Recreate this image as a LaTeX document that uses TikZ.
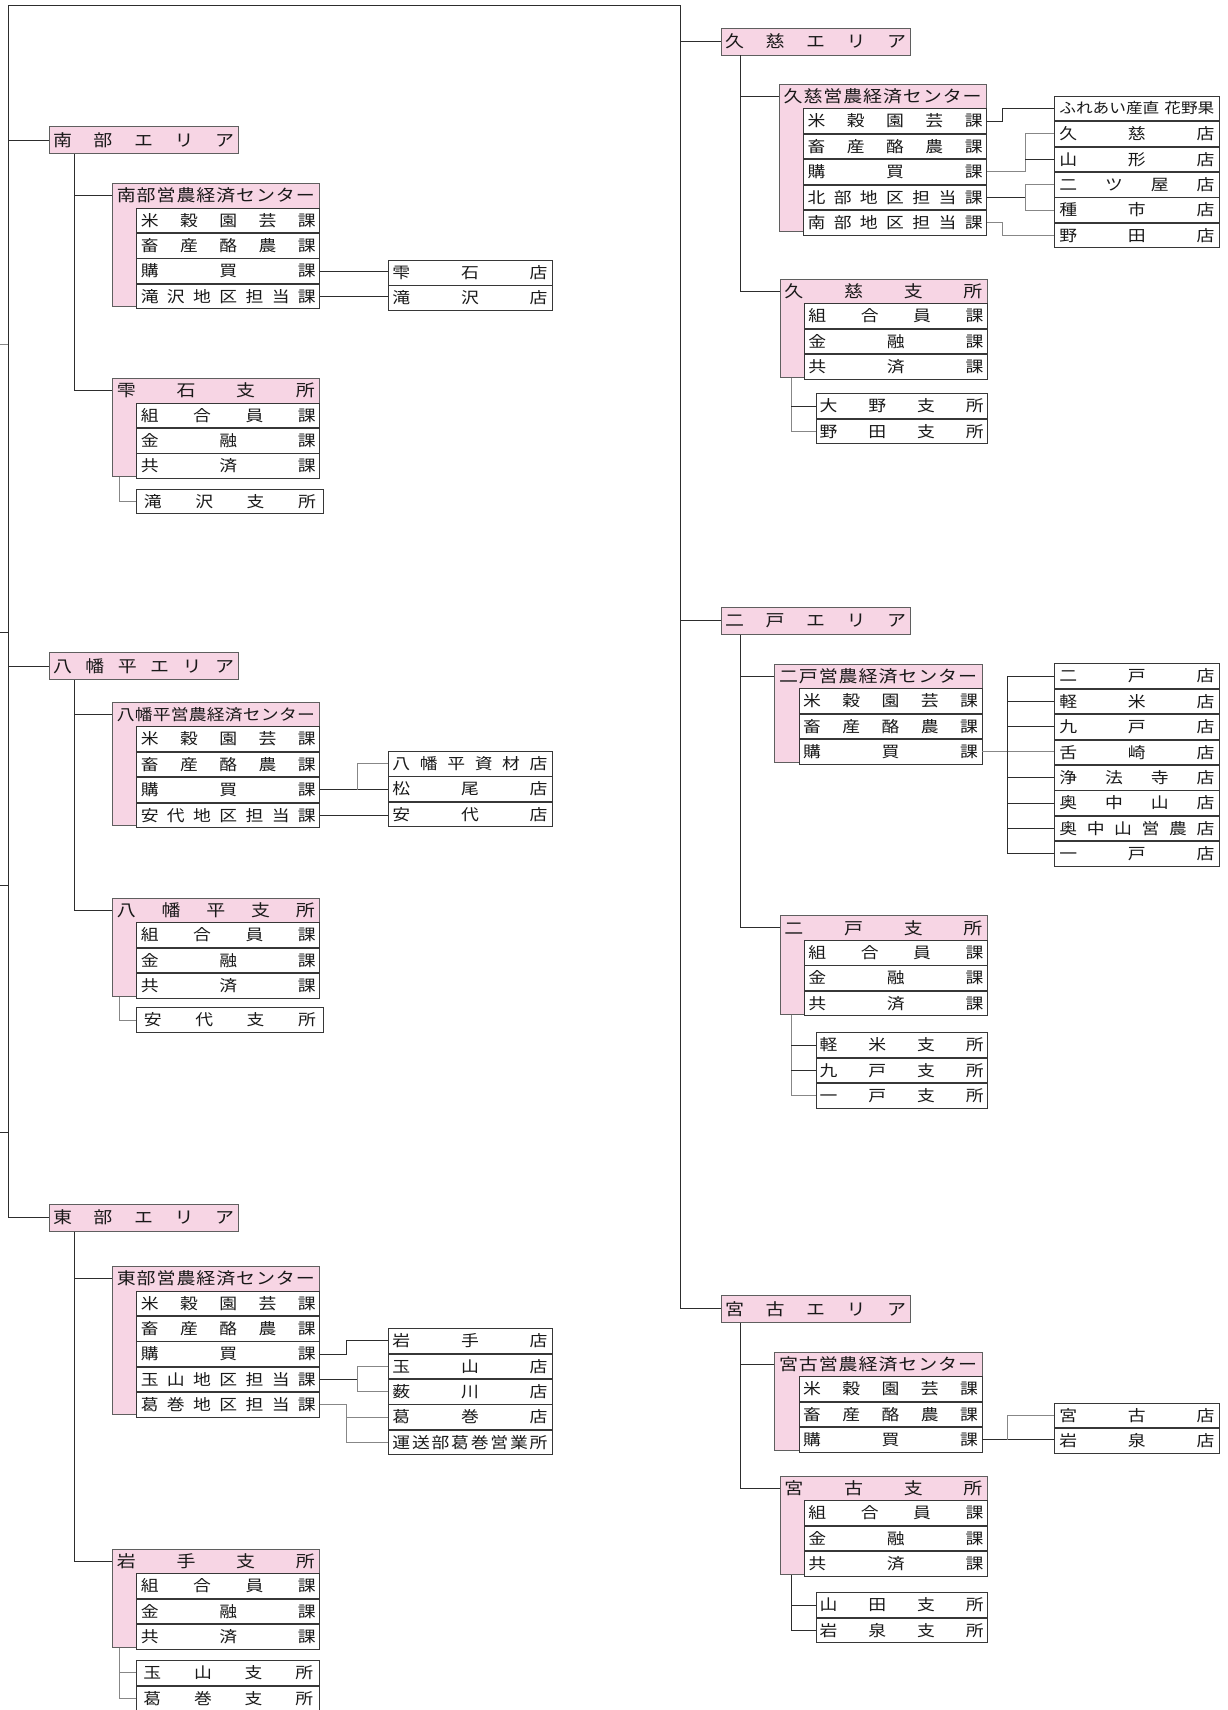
\documentclass[tikz,border=0pt]{standalone}
\usepackage{fontspec}
\usetikzlibrary{positioning}
\newfontfamily\jp[FakeStretch=1.15]{Noto Sans CJK JP}
\newcommand{\areafont}{\jp\fontsize{16.5pt}{16.5pt}\selectfont}
\newcommand{\headfont}{\jp\fontsize{16.5pt}{16.5pt}\selectfont}
\newcommand{\boxfont}{\jp\fontsize{15.5pt}{15.5pt}\selectfont}
\newcommand{\smallfont}{\jp\fontsize{14.5pt}{14.5pt}\selectfont}
\newlength{\jw}
\newcommand{\jt}[1]{\hbox to \jw{\spaceskip=0pt plus 1fil\relax #1}}
\definecolor{jpink}{RGB}{247,213,228}
\definecolor{boxline}{RGB}{95,95,95}
\definecolor{rowline}{RGB}{55,55,55}
\definecolor{linkdark}{RGB}{45,45,45}
\definecolor{linkgray}{RGB}{135,135,135}
\definecolor{jtext}{RGB}{25,25,25}

\begin{document}
\begin{tikzpicture}[x=1pt, y=-1pt,
    spread/.style={execute at begin node={\setlength{\jw}{#1}}},
    area/.style={draw=boxline, fill=jpink, line width=0.8pt, anchor=north west, inner sep=0pt,
      minimum width=189pt, minimum height=27pt, spread=181pt, font=\areafont, text=jtext},
    pinkbox/.style={draw=boxline, fill=jpink, line width=0.8pt, anchor=north west, inner sep=0pt,
      minimum width=207.5pt},
    head/.style={anchor=north west, inner sep=0pt, minimum width=207.5pt, minimum height=24.6pt,
      spread=198pt, font=\headfont, text=jtext},
    row/.style={draw=rowline, fill=white, line width=0.8pt, inner sep=0pt, minimum width=183pt,
      minimum height=24.6pt, spread=175pt, font=\boxfont, text=jtext},
    shop/.style={row, minimum width=164.1pt, spread=155pt},
    lsub/.style={row, minimum width=186.3pt, spread=172pt},
    rsub/.style={row, minimum width=171.5pt, spread=164pt},
    link/.style={draw=linkdark, line width=0.9pt},
    sublink/.style={draw=linkgray, line width=0.9pt}]

\useasboundingbox (0,0) rectangle (1227,1710);

\coordinate (ltop) at (8,5);
\coordinate (rtop) at (680.4,5);
\coordinate (lv) at (74.3,0);
\coordinate (ls) at (119.4,0);
\coordinate (rv) at (740.8,0);
\coordinate (rs) at (791.1,0);
\coordinate (hmj) at (357.5,0);
\coordinate (tbj1) at (346,0);
\coordinate (tbj2) at (357.5,0);
\coordinate (kjj1) at (1002.5,0);
\coordinate (kjj2) at (1025,0);
\coordinate (nnj) at (1007.1,0);
\coordinate (mkj) at (1007.1,0);
\coordinate (tk1) at (0,344);
\coordinate (tk2) at (0,632);
\coordinate (tk3) at (0,885);
\coordinate (tk4) at (0,1132);

% ---------- 南部エリア
\node[area] (nb-area) at (48.6,126.4) {\jt{南 部 エ リ ア}};
\node[pinkbox, minimum height=123pt] (nb-ctr-bg) at (111.9,182.9) {};
\node[head] (nb-ctr) at (111.9,182.9) {\jt{南 部 営 農 経 済 セ ン タ ー}};
\node[row, anchor=north west] (nb-c1) at (136.4,207.5) {\jt{米 穀 園 芸 課}};
\node[row, below=0pt of nb-c1] (nb-c2) {\jt{畜 産 酪 農 課}};
\node[row, below=0pt of nb-c2] (nb-c3) {\jt{購 買 課}};
\node[row, below=0pt of nb-c3] (nb-c4) {\jt{滝 沢 地 区 担 当 課}};
\node[shop, anchor=north west] (nb-s1) at (387.5,260) {\jt{雫 石 店}};
\node[shop, below=0pt of nb-s1] (nb-s2) {\jt{滝 沢 店}};
\node[pinkbox, minimum height=98.4pt] (nb-br-bg) at (111.9,377.9) {};
\node[head] (nb-br) at (111.9,377.9) {\jt{雫 石 支 所}};
\node[row, anchor=north west] (nb-b1) at (136.4,402.5) {\jt{組 合 員 課}};
\node[row, below=0pt of nb-b1] (nb-b2) {\jt{金 融 課}};
\node[row, below=0pt of nb-b2] (nb-b3) {\jt{共 済 課}};
\node[lsub, anchor=north west] (nb-sub1) at (136.4,488.6) {\jt{滝 沢 支 所}};

\draw[link] (nb-area.south -| lv) |- (nb-ctr.west);
\draw[link] (nb-area.south -| lv) |- (nb-br.west);
\draw[link] (nb-c3.east) -- (nb-c3.east -| nb-s1.west);
\draw[link] (nb-c4.east) -- (nb-c4.east -| nb-s2.west);
\draw[sublink] (nb-br-bg.south -| ls) |- (nb-sub1.west);

% ---------- 八幡平エリア
\node[area] (hm-area) at (48.6,652.3) {\jt{八 幡 平 エ リ ア}};
\node[pinkbox, minimum height=123pt] (hm-ctr-bg) at (111.9,701.7) {};
\node[head, font=\boxfont] (hm-ctr) at (111.9,701.7) {\jt{八 幡 平 営 農 経 済 セ ン タ ー}};
\node[row, anchor=north west] (hm-c1) at (136.4,726.3) {\jt{米 穀 園 芸 課}};
\node[row, below=0pt of hm-c1] (hm-c2) {\jt{畜 産 酪 農 課}};
\node[row, below=0pt of hm-c2] (hm-c3) {\jt{購 買 課}};
\node[row, below=0pt of hm-c3] (hm-c4) {\jt{安 代 地 区 担 当 課}};
\node[shop, anchor=north west] (hm-s1) at (387.5,751) {\jt{八 幡 平 資 材 店}};
\node[shop, below=0pt of hm-s1] (hm-s2) {\jt{松 尾 店}};
\node[shop, below=0pt of hm-s2] (hm-s3) {\jt{安 代 店}};
\node[pinkbox, minimum height=98.4pt] (hm-br-bg) at (111.9,897.7) {};
\node[head] (hm-br) at (111.9,897.7) {\jt{八 幡 平 支 所}};
\node[row, anchor=north west] (hm-b1) at (136.4,922.3) {\jt{組 合 員 課}};
\node[row, below=0pt of hm-b1] (hm-b2) {\jt{金 融 課}};
\node[row, below=0pt of hm-b2] (hm-b3) {\jt{共 済 課}};
\node[lsub, anchor=north west] (hm-sub1) at (136.4,1007.3) {\jt{安 代 支 所}};

\draw[link] (hm-area.south -| lv) |- (hm-ctr.west);
\draw[link] (hm-area.south -| lv) |- (hm-br.west);
\draw[link] (hm-c3.east) -- (hm-c3.east -| hm-s2.west);
\draw[sublink] (hm-c3.east -| hmj) |- (hm-s1.west);
\draw[link] (hm-c4.east) -- (hm-c4.east -| hm-s3.west);
\draw[sublink] (hm-br-bg.south -| ls) |- (hm-sub1.west);

% ---------- 東部エリア
\node[area] (tb-area) at (48.6,1203.7) {\jt{東 部 エ リ ア}};
\node[pinkbox, minimum height=147.6pt] (tb-ctr-bg) at (111.9,1265.9) {};
\node[head] (tb-ctr) at (111.9,1265.9) {\jt{東 部 営 農 経 済 セ ン タ ー}};
\node[row, anchor=north west] (tb-c1) at (136.4,1290.5) {\jt{米 穀 園 芸 課}};
\node[row, below=0pt of tb-c1] (tb-c2) {\jt{畜 産 酪 農 課}};
\node[row, below=0pt of tb-c2] (tb-c3) {\jt{購 買 課}};
\node[row, below=0pt of tb-c3] (tb-c4) {\jt{玉 山 地 区 担 当 課}};
\node[row, below=0pt of tb-c4] (tb-c5) {\jt{葛 巻 地 区 担 当 課}};
\node[shop, anchor=north west] (tb-s1) at (387.5,1328.1) {\jt{岩 手 店}};
\node[shop, below=0pt of tb-s1] (tb-s2) {\jt{玉 山 店}};
\node[shop, below=0pt of tb-s2] (tb-s3) {\jt{薮 川 店}};
\node[shop, below=0pt of tb-s3] (tb-s4) {\jt{葛 巻 店}};
\node[shop, below=0pt of tb-s4] (tb-s5) {\jt{運 送 部 葛 巻 営 業 所}};
\node[pinkbox, minimum height=98.4pt] (tb-br-bg) at (111.9,1548.5) {};
\node[head] (tb-br) at (111.9,1548.5) {\jt{岩 手 支 所}};
\node[row, anchor=north west] (tb-b1) at (136.4,1573.1) {\jt{組 合 員 課}};
\node[row, below=0pt of tb-b1] (tb-b2) {\jt{金 融 課}};
\node[row, below=0pt of tb-b2] (tb-b3) {\jt{共 済 課}};
\node[lsub, minimum width=183pt, spread=170pt, anchor=north west] (tb-sub1) at (136.4,1660.2) {\jt{玉 山 支 所}};
\node[lsub, minimum width=183pt, spread=170pt, below=0pt of tb-sub1] (tb-sub2) {\jt{葛 巻 支 所}};

\draw[link] (tb-area.south -| lv) |- (tb-ctr.west);
\draw[link] (tb-area.south -| lv) |- (tb-br.west);
\draw[link] (tb-c3.east) -- (tb-c3.east -| tbj1) |- (tb-s1.west);
\draw[link] (tb-c4.east) -- (tb-c4.east -| tbj2);
\draw[sublink] (tb-s2.west) -- (tb-s2.west -| tbj2) -- (tb-s3.west -| tbj2) -- (tb-s3.west);
\draw[sublink] (tb-c5.east) -- (tb-c5.east -| tbj1) |- (tb-s5.west);
\draw[sublink] (tb-s4.west) -- (tb-s4.west -| tbj1);
\draw[sublink] (tb-br-bg.south -| ls) |- (tb-sub2.west);
\draw[sublink] (tb-sub1.west -| ls) -- (tb-sub1.west);

% ---------- 久慈エリア
\node[area] (kj-area) at (720.7,27.7) {\jt{久 慈 エ リ ア}};
\node[pinkbox, minimum height=147.6pt] (kj-ctr-bg) at (778.7,83.7) {};
\node[head] (kj-ctr) at (778.7,83.7) {\jt{久 慈 営 農 経 済 セ ン タ ー}};
\node[row, anchor=north west] (kj-c1) at (803.2,108.3) {\jt{米 穀 園 芸 課}};
\node[row, below=0pt of kj-c1] (kj-c2) {\jt{畜 産 酪 農 課}};
\node[row, below=0pt of kj-c2] (kj-c3) {\jt{購 買 課}};
\node[row, below=0pt of kj-c3] (kj-c4) {\jt{北 部 地 区 担 当 課}};
\node[row, below=0pt of kj-c4] (kj-c5) {\jt{南 部 地 区 担 当 課}};
\node[shop, anchor=north west, font=\smallfont] (kj-s1) at (1054.4,95.7) {\jt{ふれあい産直 花野果}};
\node[shop, below=0pt of kj-s1] (kj-s2) {\jt{久 慈 店}};
\node[shop, below=0pt of kj-s2] (kj-s3) {\jt{山 形 店}};
\node[shop, below=0pt of kj-s3] (kj-s4) {\jt{二 ツ 屋 店}};
\node[shop, below=0pt of kj-s4] (kj-s5) {\jt{種 市 店}};
\node[shop, below=0pt of kj-s5] (kj-s6) {\jt{野 田 店}};
\node[pinkbox, minimum height=98.4pt] (kj-br-bg) at (779.5,278.7) {};
\node[head] (kj-br) at (779.5,278.7) {\jt{久 慈 支 所}};
\node[row, anchor=north west] (kj-b1) at (804,303.3) {\jt{組 合 員 課}};
\node[row, below=0pt of kj-b1] (kj-b2) {\jt{金 融 課}};
\node[row, below=0pt of kj-b2] (kj-b3) {\jt{共 済 課}};
\node[rsub, anchor=north west] (kj-sub1) at (815.5,393.3) {\jt{大 野 支 所}};
\node[rsub, below=0pt of kj-sub1] (kj-sub2) {\jt{野 田 支 所}};

\draw[link] (kj-area.south -| rv) |- (kj-ctr.west);
\draw[link] (kj-area.south -| rv) |- (kj-br.west);
\draw[link] (kj-c1.east) -- (kj-c1.east -| kjj1) |- (kj-s1.west);
\draw[sublink] (kj-c3.east) -- (kj-c3.east -| kjj2) |- (kj-s2.west);
\draw[link] (kj-s3.west) -- (kj-s3.west -| kjj2);
\draw[link] (kj-c4.east) -- (kj-c4.east -| kjj2);
\draw[sublink] (kj-s4.west) -- (kj-s4.west -| kjj2) -- (kj-s5.west -| kjj2) -- (kj-s5.west);
\draw[sublink] (kj-c5.east) -- (kj-c5.east -| kjj1) |- (kj-s6.west);
\draw[sublink] (kj-br-bg.south -| rs) |- (kj-sub2.west);
\draw[link] (kj-sub1.west -| rs) -- (kj-sub1.west);

% ---------- 二戸エリア
\node[area] (nn-area) at (720.7,606.7) {\jt{二 戸 エ リ ア}};
\node[pinkbox, minimum height=98.4pt] (nn-ctr-bg) at (774.1,663.7) {};
\node[head] (nn-ctr) at (774.1,663.7) {\jt{二 戸 営 農 経 済 セ ン タ ー}};
\node[row, anchor=north west] (nn-c1) at (798.6,688.3) {\jt{米 穀 園 芸 課}};
\node[row, below=0pt of nn-c1] (nn-c2) {\jt{畜 産 酪 農 課}};
\node[row, below=0pt of nn-c2] (nn-c3) {\jt{購 買 課}};
\node[shop, anchor=north west] (nn-s1) at (1054.4,663.3) {\jt{二 戸 店}};
\node[shop, below=0pt of nn-s1] (nn-s2) {\jt{軽 米 店}};
\node[shop, below=0pt of nn-s2] (nn-s3) {\jt{九 戸 店}};
\node[shop, below=0pt of nn-s3] (nn-s4) {\jt{舌 崎 店}};
\node[shop, below=0pt of nn-s4] (nn-s5) {\jt{浄 法 寺 店}};
\node[shop, below=0pt of nn-s5] (nn-s6) {\jt{奥 中 山 店}};
\node[shop, below=0pt of nn-s6] (nn-s7) {\jt{奥 中 山 営 農 店}};
\node[shop, below=0pt of nn-s7] (nn-s8) {\jt{一 戸 店}};
\node[pinkbox, minimum height=98.4pt] (nn-br-bg) at (779.5,915.3) {};
\node[head] (nn-br) at (779.5,915.3) {\jt{二 戸 支 所}};
\node[row, anchor=north west] (nn-b1) at (804,939.9) {\jt{組 合 員 課}};
\node[row, below=0pt of nn-b1] (nn-b2) {\jt{金 融 課}};
\node[row, below=0pt of nn-b2] (nn-b3) {\jt{共 済 課}};
\node[rsub, anchor=north west] (nn-sub1) at (815.5,1032.3) {\jt{軽 米 支 所}};
\node[rsub, below=0pt of nn-sub1] (nn-sub2) {\jt{九 戸 支 所}};
\node[rsub, below=0pt of nn-sub2] (nn-sub3) {\jt{一 戸 支 所}};

\draw[link] (nn-area.south -| rv) |- (nn-ctr.west);
\draw[link] (nn-area.south -| rv) |- (nn-br.west);
\draw[sublink] (nn-c3.east) -- (nn-c3.east -| nn-s4.west);
\draw[link] (nn-s1.west -| nnj) -- (nn-s8.west -| nnj);
\foreach \i in {1,2,3,5,6,7,8}
  \draw[link] (nn-s\i.west -| nnj) -- (nn-s\i.west);
\draw[sublink] (nn-br-bg.south -| rs) |- (nn-sub3.west);
\draw[link] (nn-sub1.west -| rs) -- (nn-sub1.west);
\draw[link] (nn-sub2.west -| rs) -- (nn-sub2.west);

% ---------- 宮古エリア
\node[area] (mk-area) at (720.7,1295) {\jt{宮 古 エ リ ア}};
\node[pinkbox, minimum height=98.4pt] (mk-ctr-bg) at (774.1,1351.7) {};
\node[head] (mk-ctr) at (774.1,1351.7) {\jt{宮 古 営 農 経 済 セ ン タ ー}};
\node[row, anchor=north west] (mk-c1) at (798.6,1376.3) {\jt{米 穀 園 芸 課}};
\node[row, below=0pt of mk-c1] (mk-c2) {\jt{畜 産 酪 農 課}};
\node[row, below=0pt of mk-c2] (mk-c3) {\jt{購 買 課}};
\node[shop, anchor=north west] (mk-s1) at (1054.4,1402.7) {\jt{宮 古 店}};
\node[shop, below=0pt of mk-s1] (mk-s2) {\jt{岩 泉 店}};
\node[pinkbox, minimum height=98.4pt] (mk-br-bg) at (779.5,1475.7) {};
\node[head] (mk-br) at (779.5,1475.7) {\jt{宮 古 支 所}};
\node[row, anchor=north west] (mk-b1) at (804,1500.3) {\jt{組 合 員 課}};
\node[row, below=0pt of mk-b1] (mk-b2) {\jt{金 融 課}};
\node[row, below=0pt of mk-b2] (mk-b3) {\jt{共 済 課}};
\node[rsub, anchor=north west] (mk-sub1) at (815.5,1592.3) {\jt{山 田 支 所}};
\node[rsub, below=0pt of mk-sub1] (mk-sub2) {\jt{岩 泉 支 所}};

\draw[link] (mk-area.south -| rv) |- (mk-ctr.west);
\draw[link] (mk-area.south -| rv) |- (mk-br.west);
\draw[link] (mk-c3.east) -- (mk-c3.east -| mk-s2.west);
\draw[sublink] (mk-c3.east -| mkj) |- (mk-s1.west);
\draw[link] (mk-br-bg.south -| rs) |- (mk-sub2.west);
\draw[link] (mk-sub1.west -| rs) -- (mk-sub1.west);

% ---------- trunk
\draw[link] (tb-area.west) -| (ltop) -- (rtop) |- (mk-area.west);
\draw[link] (nb-area.west) -- (nb-area.west -| ltop);
\draw[link] (hm-area.west) -- (hm-area.west -| ltop);
\draw[link] (kj-area.west) -- (kj-area.west -| rtop);
\draw[link] (nn-area.west) -- (nn-area.west -| rtop);
\draw[sublink] (tk1) -- (tk1 -| ltop);
\foreach \t in {tk2,tk3,tk4}
  \draw[link] (\t) -- (\t -| ltop);

\end{tikzpicture}
\end{document}
